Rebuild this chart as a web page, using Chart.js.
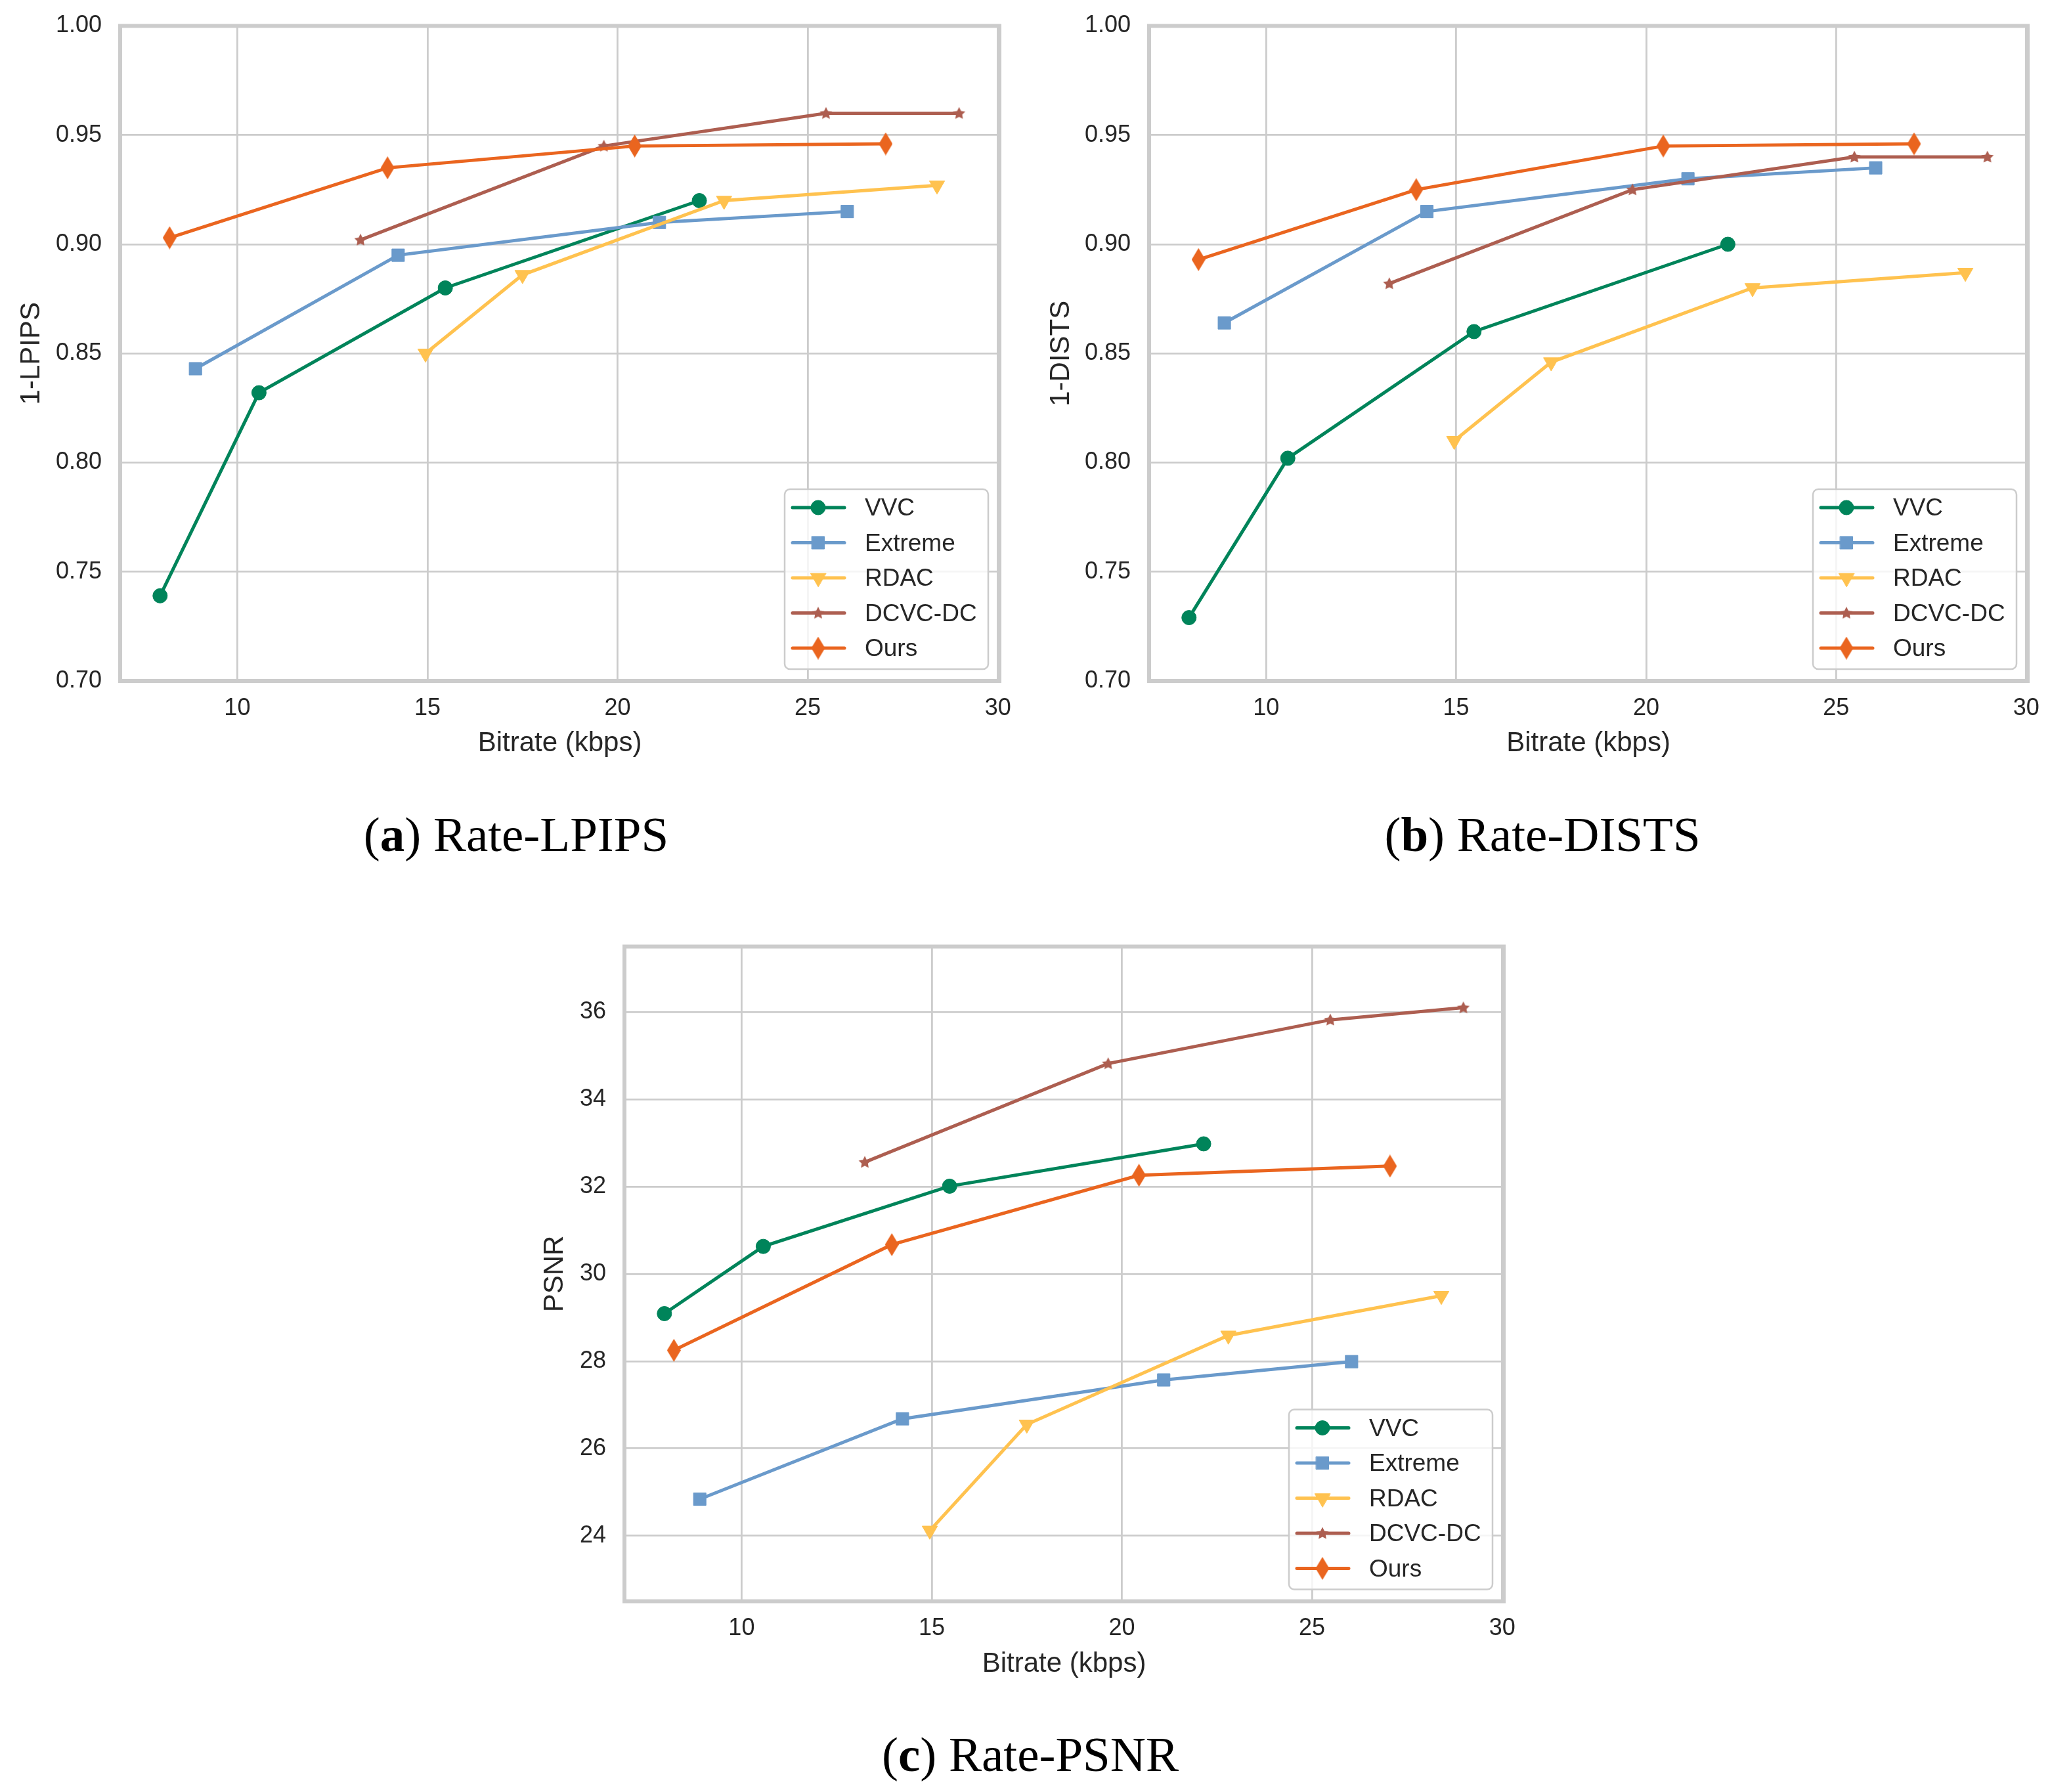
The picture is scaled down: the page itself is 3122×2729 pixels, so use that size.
<!DOCTYPE html>
<html>
<head>
<meta charset="utf-8">
<script src="https://cdn.jsdelivr.net/npm/chart.js@4.4.1/dist/chart.umd.min.js"></script>
<style>
    body { margin: 0; background: #fff; }
    #page { position: relative; width: 3122px; height: 2729px; background: #fff; overflow: hidden; }
    #page canvas { position: absolute; }
    .cap {
        position: absolute;
        font-family: "Liberation Serif", "Times New Roman", serif;
        font-size: 75px;
        line-height: 75px;
        color: #000;
        white-space: nowrap;
        transform: translateX(-50%);
    }
</style>
</head>
<body>
<div id="page">
    <canvas id="chartA" width="1561" height="1200" style="left:0px;top:0px;width:1561px;height:1200px"></canvas>
    <canvas id="chartB" width="1561" height="1200" style="left:1561px;top:0px;width:1561px;height:1200px"></canvas>
    <canvas id="chartC" width="1561" height="1200" style="left:780px;top:1380px;width:1561px;height:1200px"></canvas>
    <div class="cap" style="left:786px;top:1233px">(<b>a</b>) Rate-LPIPS</div>
    <div class="cap" style="left:2349px;top:1233px">(<b>b</b>) Rate-DISTS</div>
    <div class="cap" style="left:1569px;top:2634px">(<b>c</b>) Rate-PSNR</div>
</div>
<script>
// methods and bitrates (kbps)
const methods = ["VVC", "Extreme", "RDAC", "DCVC-DC", "Ours"];
const bitrateVVC = [7.97, 10.57, 15.47, 22.15];
const bitrateExtreme = [8.90, 14.23, 21.10, 26.04];
const bitrateRDAC = [14.95, 17.50, 22.80, 28.40];
const bitrateDCVC = [13.24, 19.64, 25.48, 28.98];
const bitrateOurs = [8.22, 13.95, 20.45, 27.05];

// 1-LPIPS
const lpipsVVC = [0.739, 0.832, 0.880, 0.920];
const lpipsExtreme = [0.843, 0.895, 0.910, 0.915];
const lpipsRDAC = [0.850, 0.886, 0.920, 0.927];
const lpipsDCVC = [0.902, 0.945, 0.960, 0.960];
const lpipsOurs = [0.903, 0.935, 0.945, 0.946];

// 1-DISTS
const distsVVC = [0.729, 0.802, 0.860, 0.900];
const distsExtreme = [0.864, 0.915, 0.930, 0.935];
const distsRDAC = [0.810, 0.846, 0.880, 0.887];
const distsDCVC = [0.882, 0.925, 0.940, 0.940];
const distsOurs = [0.893, 0.925, 0.945, 0.946];

// PSNR
const psnrVVC = [29.09, 30.63, 32.01, 32.98];
const psnrExtreme = [24.84, 26.68, 27.57, 27.99];
const psnrRDAC = [24.12, 26.55, 28.59, 29.50];
const psnrDCVC = [32.56, 34.82, 35.82, 36.10];
const psnrOurs = [28.25, 30.67, 32.26, 32.47];

// tick labels
const xTicks = [10, 15, 20, 25, 30];
const metricTicks = [0.70, 0.75, 0.80, 0.85, 0.90, 0.95, 1.00];
const psnrTicks = [24, 26, 28, 30, 32, 34, 36];

const colors = ["#00845a", "#6a9acb", "#ffc24f", "#ad5e50", "#ea651f"];
const bitrates = [bitrateVVC, bitrateExtreme, bitrateRDAC, bitrateDCVC, bitrateOurs];

const TEXT = "#262626";
const GRID = "#cccccc";
const SANS = "'Liberation Sans', Arial, sans-serif";

// small canvases used as marker shapes
function diamondMarker(color) {
    const c = document.createElement("canvas");
    c.width = 21; c.height = 35;
    const g = c.getContext("2d");
    g.fillStyle = color;
    g.beginPath();
    g.moveTo(10.5, 0); g.lineTo(21, 17.5); g.lineTo(10.5, 35); g.lineTo(0, 17.5);
    g.closePath();
    g.fill();
    return c;
}

function starMarker(color) {
    const c = document.createElement("canvas");
    c.width = 22; c.height = 22;
    const g = c.getContext("2d");
    g.fillStyle = color;
    g.beginPath();
    for (let k = 0; k < 10; k++) {
        const r = k % 2 === 0 ? 10 : 5;
        const a = -Math.PI / 2 + k * Math.PI / 5;
        const px = 11 + r * Math.cos(a), py = 11.5 + r * Math.sin(a);
        if (k === 0) g.moveTo(px, py); else g.lineTo(px, py);
    }
    g.closePath();
    g.fill();
    return c;
}

const markers = ["circle", "rect", "triangle", starMarker(colors[3]), diamondMarker(colors[4])];
const radii = [11, 13.5, 13.5, 10, 16];
const rotations = [0, 0, 180, 0, 0];

function makeDatasets(values) {
    return methods.map((name, i) => ({
        label: name,
        data: bitrates[i].map((x, j) => ({ x: x, y: values[i][j] })),
        borderColor: colors[i],
        backgroundColor: colors[i],
        borderWidth: 5,
        pointStyle: markers[i],
        pointRadius: radii[i],
        pointHoverRadius: radii[i],
        pointRotation: rotations[i],
        pointBorderWidth: 1,
        pointBorderColor: colors[i],
        pointBackgroundColor: colors[i],
        tension: 0,
        fill: false,
        order: methods.length - i
    }));
}

// frame around the plot area, like the axes spines
const framePlugin = {
    id: "frame",
    afterDatasetsDraw(chart) {
        const a = chart.chartArea, ctx = chart.ctx;
        ctx.save();
        ctx.strokeStyle = GRID;
        ctx.lineWidth = 6;
        ctx.strokeRect(a.left, a.top, a.right - a.left, a.bottom - a.top);
        ctx.restore();
    }
};

// legend box in the lower right corner, line + marker samples
const legendPlugin = {
    id: "boxLegend",
    afterDraw(chart) {
        const a = chart.chartArea, ctx = chart.ctx;
        const w = 310, h = 274;
        const left = a.right - 17 - w, top = a.bottom - 18 - h;
        ctx.save();
        ctx.beginPath();
        ctx.roundRect(left, top, w, h, 8);
        ctx.fillStyle = "rgba(255,255,255,0.8)";
        ctx.fill();
        ctx.lineWidth = 2.5;
        ctx.strokeStyle = GRID;
        ctx.stroke();
        chart.data.datasets.forEach((ds, i) => {
            const y = top + 28 + i * 53.5;
            ctx.strokeStyle = ds.borderColor;
            ctx.fillStyle = ds.borderColor;
            ctx.lineWidth = 5;
            ctx.lineCap = "round";
            ctx.beginPath();
            ctx.moveTo(left + 12, y);
            ctx.lineTo(left + 91, y);
            ctx.stroke();
            ctx.lineWidth = 1;
            Chart.helpers.drawPoint(ctx, {
                pointStyle: ds.pointStyle,
                radius: ds.pointRadius,
                rotation: ds.pointRotation,
                borderWidth: 1
            }, left + 51, y);
            ctx.fillStyle = TEXT;
            ctx.font = "37px " + SANS;
            ctx.textAlign = "left";
            ctx.textBaseline = "middle";
            ctx.fillText(ds.label, left + 122, y + 2);
        });
        ctx.restore();
    }
};

function buildChart(id, box, values, yTitle, yMin, yMax, yTicks, fmt) {
    const xHeight = box.xTitleY - box.area.b + 25;
    new Chart(document.getElementById(id), {
        type: "line",
        data: { datasets: makeDatasets(values) },
        options: {
            responsive: false,
            animation: false,
            devicePixelRatio: 1,
            layout: {
                padding: {
                    left: 0,
                    top: box.area.t - box.top,
                    right: box.left + box.w - box.area.r,
                    bottom: box.top + box.h - box.area.b - xHeight
                }
            },
            plugins: { legend: { display: false }, tooltip: { enabled: false } },
            scales: {
                x: {
                    type: "linear",
                    min: 6.92,
                    max: 30.04,
                    afterBuildTicks: s => { s.ticks = xTicks.map(v => ({ value: v })); },
                    afterFit: s => { s.height = xHeight; s.paddingLeft = 0; s.paddingRight = 0; },
                    grid: { color: GRID, lineWidth: 2.8, drawTicks: false },
                    border: { display: false },
                    ticks: { color: TEXT, font: { family: SANS, size: 36 }, padding: 20, maxRotation: 0 },
                    title: { display: true, text: "Bitrate (kbps)", color: TEXT, font: { family: SANS, size: 42 }, padding: 0 }
                },
                y: {
                    type: "linear",
                    min: yMin,
                    max: yMax,
                    afterBuildTicks: s => { s.ticks = yTicks.map(v => ({ value: v })); },
                    afterFit: s => { s.width = box.area.l - box.left; s.paddingTop = 0; s.paddingBottom = 0; },
                    grid: { color: GRID, lineWidth: 2.8, drawTicks: false },
                    border: { display: false },
                    ticks: { color: TEXT, font: { family: SANS, size: 36 }, padding: 28, callback: fmt },
                    title: { display: true, text: yTitle, color: TEXT, font: { family: SANS, size: 42 },
                             padding: { top: box.yTitleX - box.left - 25, bottom: 0 } }
                }
            }
        },
        plugins: [framePlugin, legendPlugin]
    });
}

const boxA = { left: 0, top: 0, w: 1561, h: 1200, area: { l: 183, t: 39.5, r: 1522, b: 1037 }, xTitleY: 1133, yTitleX: 48 };
const boxB = { left: 1561, top: 0, w: 1561, h: 1200, area: { l: 1750, t: 39.5, r: 3088, b: 1037 }, xTitleY: 1133, yTitleX: 1616 };
const boxC = { left: 780, top: 1380, w: 1561, h: 1200, area: { l: 951, t: 1441.5, r: 2290, b: 2438.5 }, xTitleY: 2535, yTitleX: 845 };

const two = v => Number(v).toFixed(2);
const whole = v => String(Math.round(v));

buildChart("chartA", boxA, [lpipsVVC, lpipsExtreme, lpipsRDAC, lpipsDCVC, lpipsOurs], "1-LPIPS", 0.70, 1.00, metricTicks, two);
buildChart("chartB", boxB, [distsVVC, distsExtreme, distsRDAC, distsDCVC, distsOurs], "1-DISTS", 0.70, 1.00, metricTicks, two);
buildChart("chartC", boxC, [psnrVVC, psnrExtreme, psnrRDAC, psnrDCVC, psnrOurs], "PSNR", 22.5, 37.5, psnrTicks, whole);
</script>
</body>
</html>
